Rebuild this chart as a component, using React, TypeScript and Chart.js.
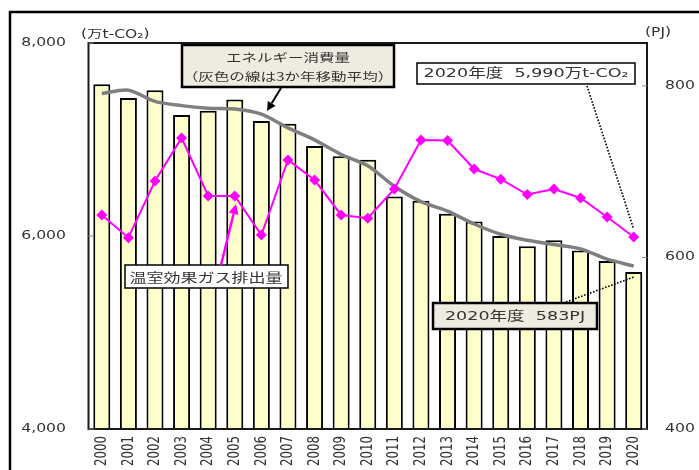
import React, { useEffect, useRef } from 'react';
import { Chart, registerables } from 'chart.js';

Chart.register(...registerables);

const years = ['2000', '2001', '2002', '2003', '2004', '2005', '2006', '2007', '2008', '2009', '2010',
  '2011', '2012', '2013', '2014', '2015', '2016', '2017', '2018', '2019', '2020'];
const energyPJ = [802, 786, 795, 766, 771, 784, 759, 756, 730, 718, 714, 671, 666, 651, 642, 625, 613, 620, 608, 596, 583];
const energyAvg3 = [791, 795, 782, 777, 774, 773, 767, 751, 737, 720, 707, 683, 665, 654, 639, 627, 620, 615, 610, 598, 590];
const ghgEmissions = [6218, 5982, 6570, 7016, 6415, 6415, 6010, 6788, 6580, 6218, 6184, 6487, 6995, 6990, 6694, 6589, 6430, 6487, 6394, 6197, 5990];
const leftTicks = [4000, 6000, 8000];
const leftTickLabels = ['4,000', '6,000', '8,000'];
const rightTicks = [400, 600, 800];
const rightTickLabels = ['400', '600', '800'];

const SX = 1.35;
const LATIN = '"DejaVu Sans", "Noto Sans CJK JP", sans-serif';
const CJK = '"Noto Sans CJK JP", "DejaVu Sans", sans-serif';
const TXT = '#333333';

function drawText(ctx: CanvasRenderingContext2D, text: string, x: number, y: number, size: number,
  family: string, align: CanvasTextAlign, color: string, rot = false) {
  ctx.save();
  ctx.translate(x, y);
  ctx.scale(SX, 1);
  if (rot) ctx.rotate(-Math.PI / 2);
  ctx.font = `${size}px ${family}`;
  ctx.textAlign = align;
  ctx.textBaseline = 'middle';
  ctx.fillStyle = color;
  ctx.fillText(text, 0, 0);
  ctx.restore();
}

function arrow(ctx: CanvasRenderingContext2D, x1: number, y1: number, x2: number, y2: number,
  color: string, lw: number, head: number) {
  const ang = Math.atan2(y2 - y1, x2 - x1);
  const bx = x2 - head * Math.cos(ang);
  const by = y2 - head * Math.sin(ang);
  ctx.save();
  ctx.strokeStyle = color;
  ctx.fillStyle = color;
  ctx.lineWidth = lw;
  ctx.beginPath();
  ctx.moveTo(x1, y1);
  ctx.lineTo(bx, by);
  ctx.stroke();
  const w = head * 0.5;
  ctx.beginPath();
  ctx.moveTo(x2, y2);
  ctx.lineTo(bx + w * Math.sin(ang), by - w * Math.cos(ang));
  ctx.lineTo(bx - w * Math.sin(ang), by + w * Math.cos(ang));
  ctx.closePath();
  ctx.fill();
  ctx.restore();
}

function box(ctx: CanvasRenderingContext2D, x: number, y: number, w: number, h: number, fill: string, lw: number) {
  ctx.save();
  ctx.fillStyle = fill;
  ctx.fillRect(x, y, w, h);
  ctx.strokeStyle = '#000';
  ctx.lineWidth = lw;
  ctx.strokeRect(x, y, w, h);
  ctx.restore();
}

function dotted(ctx: CanvasRenderingContext2D, x1: number, y1: number, x2: number, y2: number) {
  ctx.save();
  ctx.strokeStyle = '#000';
  ctx.lineWidth = 1.6;
  ctx.setLineDash([1.6, 1.6]);
  ctx.beginPath();
  ctx.moveTo(x1, y1);
  ctx.lineTo(x2, y2);
  ctx.stroke();
  ctx.restore();
}

const overlay = {
  id: 'overlay',
  afterDraw(chart: any) {
    const ctx: CanvasRenderingContext2D = chart.ctx;
    const a = chart.chartArea;
    const xs = chart.scales.x;
    const yL = chart.scales.yL;
    const yR = chart.scales.yR;

    ctx.save();
    // outer frame
    ctx.strokeStyle = '#000';
    ctx.lineWidth = 2.5;
    ctx.beginPath();
    ctx.moveTo(10, 470);
    ctx.lineTo(10, 12);
    ctx.lineTo(699, 12);
    ctx.stroke();
    // plot frame
    ctx.lineWidth = 2;
    ctx.strokeStyle = '#1a1a1a';
    ctx.strokeRect(a.left, a.top, a.right - a.left, a.bottom - a.top);
    // inward tick marks
    ctx.lineWidth = 1;
    ctx.strokeStyle = '#888';
    leftTicks.forEach((v) => {
      const y = yL.getPixelForValue(v);
      ctx.beginPath(); ctx.moveTo(a.left, y); ctx.lineTo(a.left + 5, y); ctx.stroke();
    });
    rightTicks.forEach((v) => {
      const y = yR.getPixelForValue(v);
      ctx.beginPath(); ctx.moveTo(a.right - 5, y); ctx.lineTo(a.right, y); ctx.stroke();
    });
    ctx.restore();

    // tick labels
    leftTicks.forEach((v, i) => drawText(ctx, leftTickLabels[i], 66, yL.getPixelForValue(v), 11.6, LATIN, 'right', TXT));
    rightTicks.forEach((v, i) => drawText(ctx, rightTickLabels[i], 665, yR.getPixelForValue(v), 11.6, LATIN, 'left', TXT));
    years.forEach((yr, i) => drawText(ctx, yr, xs.getPixelForValue(i), 436, 11.8, LATIN, 'right', TXT, true));

    // axis titles
    drawText(ctx, '(万t-CO₂)', 81, 35, 11.5, LATIN, 'left', TXT);
    drawText(ctx, '(PJ)', 645, 33, 11.5, LATIN, 'left', TXT);

    // energy annotation
    box(ctx, 182, 45, 212, 42, '#EEECE1', 2.5);
    drawText(ctx, 'エネルギー消費量', 288, 58, 11.5, CJK, 'center', TXT);
    drawText(ctx, '（灰色の線は3か年移動平均）', 288, 77, 11.5, CJK, 'center', TXT);
    arrow(ctx, 281, 88, 267, 111, '#000', 2, 9);

    // 2020 GHG annotation
    box(ctx, 417, 63, 218, 21, '#FFFFFF', 1.5);
    drawText(ctx, '2020年度  5,990万t-CO₂', 526, 73.5, 13, LATIN, 'center', TXT);
    const last = years.length - 1;
    dotted(ctx, 587, 86, xs.getPixelForValue(last), yL.getPixelForValue(ghgEmissions[last]) - 8);

    // GHG label
    box(ctx, 125, 265, 163, 23, '#FFFFFF', 1.5);
    drawText(ctx, '温室効果ガス排出量', 206, 277, 12.6, CJK, 'center', TXT);
    arrow(ctx, 221, 265, 236, 204, '#FF00FF', 2.5, 10);

    // 2020 PJ annotation
    dotted(ctx, 566, 302, xs.getPixelForValue(last), yR.getPixelForValue(energyPJ[last]) + 5);
    box(ctx, 433, 303, 164, 26, '#EEECE1', 2.5);
    drawText(ctx, '2020年度  583PJ', 515, 316.5, 13, LATIN, 'center', TXT);
  },
};

export default function App() {
  const ref = useRef<HTMLCanvasElement>(null);
  useEffect(() => {
    const chart = new Chart(ref.current as HTMLCanvasElement, {
      type: 'bar',
      data: {
        labels: years,
        datasets: [
          {
            type: 'line',
            label: '温室効果ガス排出量',
            data: ghgEmissions,
            yAxisID: 'yL',
            borderColor: '#FF00FF',
            backgroundColor: '#FF00FF',
            borderWidth: 2,
            pointStyle: 'rectRot',
            pointRadius: 5.5,
            pointBorderWidth: 0,
            pointBackgroundColor: '#FF00FF',
            tension: 0,
            order: 0,
          } as any,
          {
            type: 'line',
            label: '3か年移動平均',
            data: energyAvg3,
            yAxisID: 'yR',
            borderColor: '#7F7F7F',
            borderWidth: 3.5,
            pointRadius: 0,
            tension: 0.3,
            order: 1,
          } as any,
          {
            type: 'bar',
            label: 'エネルギー消費量',
            data: energyPJ,
            yAxisID: 'yR',
            backgroundColor: '#FFFFCC',
            borderColor: '#000000',
            borderWidth: 2,
            borderSkipped: false,
            categoryPercentage: 0.8,
            barPercentage: 0.8,
            order: 2,
          } as any,
        ],
      },
      options: {
        animation: false,
        responsive: true,
        maintainAspectRatio: false,
        layout: { padding: { left: 88.5, right: 52, top: 43, bottom: 41 } },
        plugins: { legend: { display: false }, tooltip: { enabled: false } },
        scales: {
          x: { type: 'category', display: false, offset: true },
          yL: { type: 'linear', position: 'left', min: 4000, max: 8000, display: false },
          yR: { type: 'linear', position: 'right', min: 400, max: 850, display: false },
        },
      },
      plugins: [overlay],
    });
    return () => chart.destroy();
  }, []);
  return (
    <div style={{ position: 'fixed', left: 0, top: 0, width: 699, height: 470, background: '#fff' }}>
      <canvas ref={ref} />
    </div>
  );
}
